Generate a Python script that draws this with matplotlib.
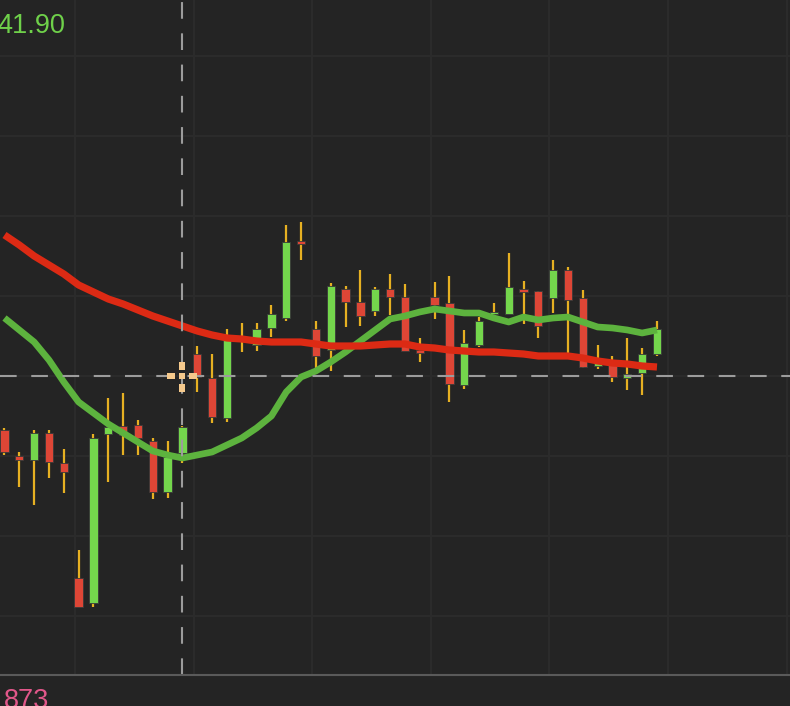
import matplotlib
matplotlib.use("Agg")
import matplotlib.pyplot as plt
from matplotlib.patches import Rectangle
import numpy as np

# candle values (open, high, low, close)
opens = [27.6, 25.0, 24.6, 27.3, 24.3, 12.8, 10.3, 27.2, 28.0, 28.1,
         26.5, 21.4, 25.3, 35.2, 32.8, 28.8, 37.0, 36.1, 37.8, 38.8,
         46.5, 37.7, 35.6, 41.7, 40.4, 39.5, 41.7, 40.9, 35.6, 40.9,
         40.3, 32.1, 36.1, 39.2, 39.2, 41.7, 41.5, 40.8, 43.6, 40.8,
         34.0, 34.4, 32.8, 33.3, 35.2]
highs = [27.8, 25.4, 27.6, 27.6, 25.7, 15.6, 27.2, 30.8, 31.3, 28.6,
         26.8, 26.5, 28.0, 36.0, 35.2, 37.7, 38.3, 38.3, 40.1, 48.1,
         48.4, 38.5, 42.3, 42.0, 43.6, 41.9, 43.2, 42.2, 36.8, 42.4,
         43.0, 37.6, 38.9, 40.3, 45.3, 42.5, 41.5, 44.6, 43.9, 41.6,
         36.1, 35.0, 36.8, 35.8, 38.5]
lows = [25.1, 21.9, 20.1, 22.8, 21.3, 9.9, 9.9, 22.4, 25.1, 25.1,
        20.7, 20.8, 24.3, 31.4, 28.3, 28.4, 35.4, 35.5, 36.9, 38.5,
        44.6, 33.6, 33.5, 37.9, 38.0, 39.0, 39.1, 35.5, 34.4, 38.7,
        30.4, 31.7, 35.9, 39.1, 39.2, 38.2, 36.8, 39.3, 35.1, 33.8,
        33.7, 32.4, 31.6, 31.1, 35.0]
closes = [25.4, 24.6, 27.3, 24.4, 23.4, 9.9, 26.8, 27.9, 27.1, 26.8,
          21.4, 24.9, 27.9, 32.9, 28.9, 36.6, 36.5, 37.7, 39.2, 46.4,
          46.2, 35.0, 42.0, 40.4, 39.0, 41.7, 40.9, 35.5, 35.3, 40.1,
          32.2, 36.3, 38.5, 39.4, 41.9, 41.4, 38.0, 43.6, 40.6, 33.9,
          34.3, 32.9, 33.2, 35.2, 37.7]

# moving averages
ma_slow = [47.1, 46.1, 45.0, 44.1, 43.2, 42.1, 41.4, 40.7, 40.2, 39.6,
           39.0, 38.5, 38.0, 37.5, 37.1, 36.8, 36.7, 36.5, 36.4, 36.4,
           36.4, 36.2, 36.0, 36.0, 36.0, 36.1, 36.2, 36.2, 35.9, 35.8,
           35.6, 35.5, 35.4, 35.4, 35.3, 35.2, 35.0, 35.0, 35.0, 34.8,
           34.5, 34.3, 34.2, 34.0, 33.9]
ma_fast = [38.8, 37.6, 36.4, 34.6, 32.4, 30.4, 29.3, 28.2, 27.3, 26.4,
           25.5, 25.1, 24.8, 25.1, 25.4, 26.1, 26.8, 27.8, 29.0, 31.4,
           32.9, 33.5, 34.4, 35.4, 36.5, 37.6, 38.7, 39.0, 39.4, 39.7,
           39.5, 39.3, 39.3, 38.8, 38.4, 38.9, 38.6, 38.8, 38.9, 38.4,
           37.9, 37.8, 37.6, 37.3, 37.6]

cross_idx = 12
cross_price = 33.0
top_label = "41.90"
bottom_label = "873"

bg = "#242424"
up_col = "#74d64c"
down_col = "#de4636"
wick_col = "#e6b022"

fig = plt.figure(figsize=(7.9, 7.06), dpi=100, facecolor=bg)
ax = fig.add_axes([0, 31 / 706, 1, 675 / 706])
ax.set_facecolor(bg)

x = np.arange(len(opens))
o = np.array(opens)
c = np.array(closes)

# grid
for gx in np.arange(4.75, 53, 8):
    ax.axvline(gx, color="#2b2b2b", lw=1.5, zorder=0)
for gy in np.arange(9, 70, 8):
    ax.axhline(gy, color="#2b2b2b", lw=1.5, zorder=0)

# candles
ax.vlines(x, lows, highs, color=wick_col, lw=1.6, zorder=2)
colors = [up_col if cc >= oo else down_col for oo, cc in zip(o, c)]
ax.bar(x, np.maximum(np.abs(c - o), 0.2), bottom=np.minimum(o, c), width=0.56,
       color=colors, edgecolor="#3a3a3a", linewidth=0.6, zorder=3)

# moving averages
ax.plot(x, ma_fast, color="#5db33e", lw=4.8, solid_joinstyle="round",
        solid_capstyle="butt", zorder=4)
ax.plot(x, ma_slow, color="#dc2a14", lw=5.2, solid_joinstyle="round",
        solid_capstyle="butt", zorder=4)

# crosshair
ax.axvline(cross_idx, color="#9c9c9c", lw=1.5, dashes=(8, 7), zorder=5)
ax.axhline(cross_price, color="#9c9c9c", lw=1.5, dashes=(8, 7), zorder=5)
px = 1 / 14.83  # one pixel in index units
py = 0.1        # one pixel in price units
marks = [(0, 0, 6, 6), (0, 10, 6, 8), (0, -12, 6, 8), (-11, 0, 8, 6), (11, 0, 8, 6)]
for dx, dy, w, h in marks:
    ax.add_patch(Rectangle((cross_idx + (dx - w / 2) * px, cross_price + (dy - h / 2) * py),
                           w * px, h * py, color="#f5c98c", lw=0, zorder=6))

ax.set_xlim(-0.303, 52.97)
ax.set_ylim(3.1, 70.6)
ax.set_xticks([])
ax.set_yticks([])
for s in ax.spines.values():
    s.set_visible(False)

# bottom separator
fig.add_artist(plt.Line2D([0, 1], [31 / 706, 31 / 706], color="#5a5a5a", lw=1.5))

fig.text(-0.003, 1 - 26 / 706, top_label, color="#6fd14a", fontsize=19.5,
         va="center", ha="left", family="Liberation Sans")
fig.text(0.005, -8 / 706, bottom_label, color="#e2578a", fontsize=19.5,
         va="bottom", ha="left", family="Liberation Sans")

fig.savefig("out.png", dpi=100, facecolor=bg)
